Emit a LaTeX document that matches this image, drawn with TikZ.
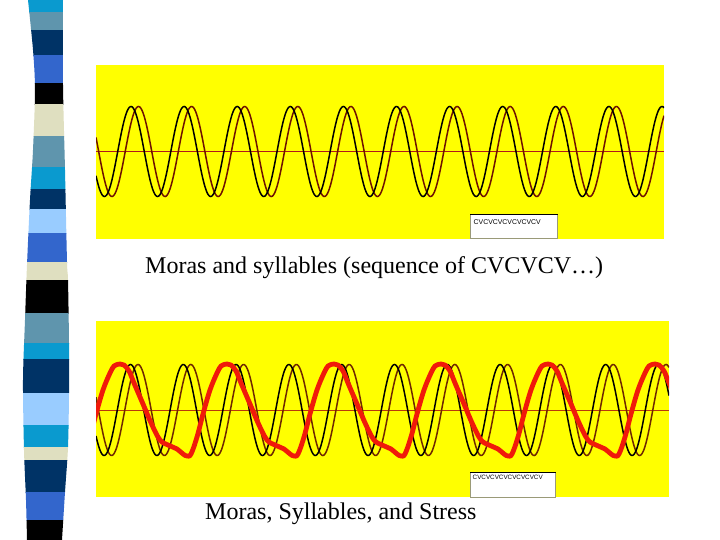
\documentclass[tikz,border=0pt]{standalone}
\usepackage{fontspec}
\setmainfont{Liberation Serif}
\newfontfamily\legendfont{Liberation Sans}
\definecolor{stripecyan}{HTML}{0A9ACF}
\definecolor{stripesteel}{HTML}{5F95AD}
\definecolor{stripenavy}{HTML}{003366}
\definecolor{striperoyal}{HTML}{3366CC}
\definecolor{stripebeige}{HTML}{DFDFC0}
\definecolor{stripelight}{HTML}{99CCFF}
\definecolor{panelyellow}{HTML}{FFFF00}
\definecolor{axisred}{HTML}{B0181A}
\definecolor{axisorange}{HTML}{B8380A}
\definecolor{brownwave}{HTML}{6E1200}
\definecolor{brownwaveb}{HTML}{6E2800}
\definecolor{redcurve}{HTML}{F01A0A}
\definecolor{boxedge}{HTML}{9A9A78}
\begin{document}
\begin{tikzpicture}[x=1pt,y=-1pt,
  thinwave/.style={line width=1.5pt},
  redwave/.style={draw=redcurve, line width=4.8pt, line cap=round, line join=round},
  axisline/.style={line width=1pt},
  legendbox/.style={fill=white, draw=boxedge, line width=1pt},
  legendtxt/.style={font=\legendfont\fontsize{6.9}{8}\selectfont, inner sep=0pt, anchor=west},
  captiontext/.style={font=\fontsize{24}{28}\selectfont, inner sep=0pt, anchor=base west}]
\useasboundingbox (0,0) rectangle (720,540);
\fill[white] (0,0) rectangle (720,540);

% left striped bar
\begin{scope}
\clip plot[smooth] coordinates {(28,0) (33,50) (35,90) (33,150) (30,200) (27,265) (25,320) (23,380) (24,450) (26,500) (27,540)}
  -- plot[smooth] coordinates {(62,540) (65,492) (68,447) (69,393) (69,343) (68,280) (67,262) (65,170) (63,85) (63,0)} -- cycle;
\foreach \a/\b/\c in {0/12.7/stripecyan, 12.7/31/stripesteel, 31/56/stripenavy, 56/84/striperoyal,
  84/105/black, 105/137/stripebeige, 137/168/stripesteel, 168/190/stripecyan, 190/210/stripenavy,
  210/233/stripelight, 233/262/striperoyal, 262/280/stripebeige, 280/313/black, 313/343/stripesteel,
  343/359/stripecyan, 359/393/stripenavy, 393/425/stripelight, 425/447/stripecyan, 447/460/stripebeige,
  460/492/stripenavy, 492/520/striperoyal, 520/541/black}
  {\fill[\c] (0,\a-0.5) rectangle (100,\b+0.5);}
\end{scope}

% top panel
\fill[panelyellow] (96,65) rectangle (664,239);
\begin{scope}
\clip (96,65) rectangle (664,239);
\draw[axisline, axisred] (96,152) -- (664,152);
\draw[thinwave, brownwave] plot[domain=96:664, samples=600] (\x, {151.5-45*cos(6.77966*(\x-138.5))});
\draw[thinwave, black] plot[domain=96:664, samples=600] (\x, {151.5-45*cos(6.77966*(\x-131))});
\end{scope}
\draw[legendbox] (470.5,214.5) rectangle (557,238);
\draw[line width=1.6pt, black] (470,214.5) -- (557.5,214.5);
\node[legendtxt] (legtop) at (473.5,222.5) {CVCVCVCVCVCVCV};

\node[captiontext] (captop) at (145,273.5) {Moras and syllables (sequence of CVCVCV…)};

% bottom panel
\fill[panelyellow] (96,321) rectangle (669,497);
\def\redpts{}
\foreach \k in {-1,...,5}{
  \foreach \t/\v in {-3/45.5,0/46,4/45,9/39,14/27,23/6,32/-15,40/-30,48/-35,57/-39,63/-44,67/-46,71/-44,77/-27,83/-4,90/20,97/37,101/44}{
    \pgfmathsetmacro\px{120+107*\k+\t}
    \pgfmathsetmacro\py{410-\v}
    \xdef\redpts{\redpts (\px,\py)}
  }
}
\begin{scope}
\clip (96,321) rectangle (669,497);
\draw[axisline, axisorange] (96,410.5) -- (669,410.5);
\draw[thinwave, brownwaveb] plot[domain=96:669, samples=600] (\x, {410-45.5*cos(6.81818*(\x-138))});
\draw[thinwave, black] plot[domain=96:669, samples=600] (\x, {410-45.5*cos(6.81818*(\x-130.5))});
\edef\redcmd{\noexpand\draw[redwave] plot[smooth, tension=0.6] coordinates {\redpts};}
\redcmd
\end{scope}
\draw[legendbox] (470.5,472.5) rectangle (555.5,497);
\draw[line width=1.6pt, black] (470,472.5) -- (556,472.5);
\node[legendtxt, font=\legendfont\fontsize{6.3}{7}\selectfont] (legbot) at (472.5,477.5) {CVCVCVCVCVCVCVCV};

\node[captiontext] (capbot) at (205,519) {Moras, Syllables, and Stress};
\end{tikzpicture}
\end{document}
